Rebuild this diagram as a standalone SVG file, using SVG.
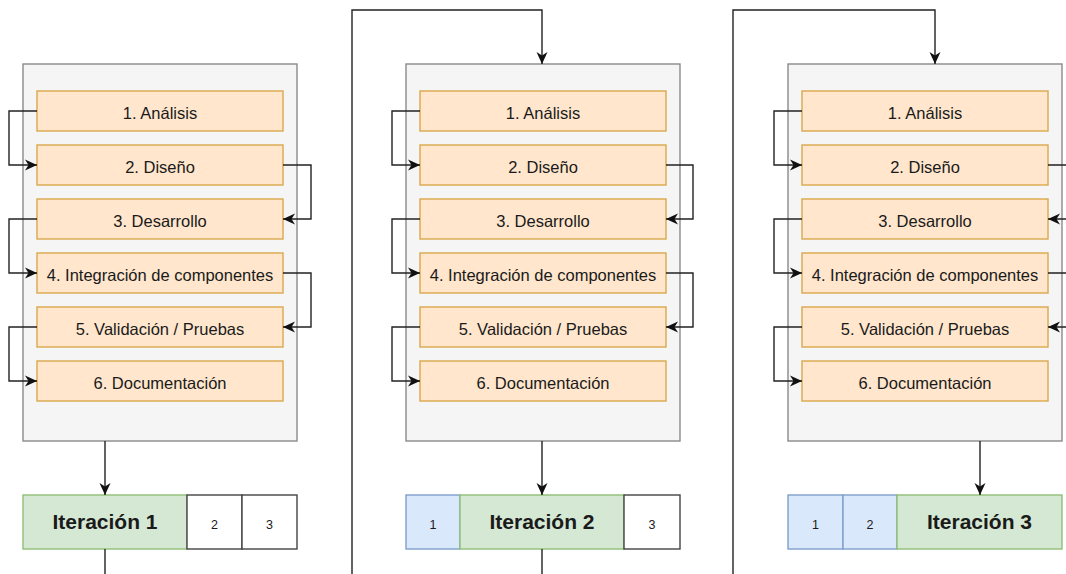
<svg xmlns="http://www.w3.org/2000/svg" width="1066" height="574" viewBox="0 0 1066 574">
<defs>
<style>
.cont{fill:#f5f5f5;stroke:#8a8a8a;stroke-width:1.4}
.step{fill:#ffe6cc;stroke:#dba84a;stroke-width:1.4}
.green{fill:#d5e8d4;stroke:#8fbf77;stroke-width:1.4}
.blue{fill:#dae8fc;stroke:#7f9fcc;stroke-width:1.4}
.white{fill:#ffffff;stroke:#444;stroke-width:1.4}
.lbl{font-family:"Liberation Sans",Arial,sans-serif;font-size:16.5px;fill:#1a1a1a;text-anchor:middle}
.it{font-family:"Liberation Sans",Arial,sans-serif;font-size:21px;font-weight:bold;fill:#1a1a1a;text-anchor:middle}
.num{font-family:"Liberation Sans",Arial,sans-serif;font-size:12.5px;fill:#1a1a1a;text-anchor:middle}
.conn{fill:none;stroke:#222;stroke-width:1.4}
.arr{marker-end:url(#ah)}
</style>
<marker id="ah" markerUnits="userSpaceOnUse" markerWidth="13" markerHeight="13" refX="12" refY="5.5" orient="auto" viewBox="0 0 13 11">
<path d="M0,0 L12,5.5 L0,11 L3.5,5.5 Z" fill="#111"/>
</marker>
</defs>

<!-- Panel 1 -->
<g id="iter1-container"><rect class="cont" x="23" y="64" width="274" height="377"/></g>
<g id="p1-s1"><rect class="step" x="37" y="91" width="246" height="40"/><text class="lbl" x="160" y="118.5">1. Análisis</text></g>
<g id="p1-s2"><rect class="step" x="37" y="145" width="246" height="40"/><text class="lbl" x="160" y="172.5">2. Diseño</text></g>
<g id="p1-s3"><rect class="step" x="37" y="199" width="246" height="40"/><text class="lbl" x="160" y="226.5">3. Desarrollo</text></g>
<g id="p1-s4"><rect class="step" x="37" y="253" width="246" height="40"/><text class="lbl" x="160" y="280.5">4. Integración de componentes</text></g>
<g id="p1-s5"><rect class="step" x="37" y="307" width="246" height="40"/><text class="lbl" x="160" y="334.5">5. Validación / Pruebas</text></g>
<g id="p1-s6"><rect class="step" x="37" y="361" width="246" height="40"/><text class="lbl" x="160" y="388.5">6. Documentación</text></g>
<g id="p1-bar">
<rect class="green" x="23" y="495" width="164" height="54"/><text class="it" x="105" y="529">Iteración 1</text>
<rect class="white" x="187" y="495" width="55" height="54"/><text class="num" x="214.5" y="528.5">2</text>
<rect class="white" x="242" y="495" width="55" height="54"/><text class="num" x="269.5" y="528.5">3</text>
</g>

<!-- Panel 2 -->
<g id="iter2-container"><rect class="cont" x="406" y="64" width="274" height="377"/></g>
<g id="p2-s1"><rect class="step" x="420" y="91" width="246" height="40"/><text class="lbl" x="543" y="118.5">1. Análisis</text></g>
<g id="p2-s2"><rect class="step" x="420" y="145" width="246" height="40"/><text class="lbl" x="543" y="172.5">2. Diseño</text></g>
<g id="p2-s3"><rect class="step" x="420" y="199" width="246" height="40"/><text class="lbl" x="543" y="226.5">3. Desarrollo</text></g>
<g id="p2-s4"><rect class="step" x="420" y="253" width="246" height="40"/><text class="lbl" x="543" y="280.5">4. Integración de componentes</text></g>
<g id="p2-s5"><rect class="step" x="420" y="307" width="246" height="40"/><text class="lbl" x="543" y="334.5">5. Validación / Pruebas</text></g>
<g id="p2-s6"><rect class="step" x="420" y="361" width="246" height="40"/><text class="lbl" x="543" y="388.5">6. Documentación</text></g>
<g id="p2-bar">
<rect class="blue" x="406" y="495" width="54" height="54"/><text class="num" x="433" y="528.5">1</text>
<rect class="green" x="460" y="495" width="164" height="54"/><text class="it" x="542" y="529">Iteración 2</text>
<rect class="white" x="624" y="495" width="56" height="54"/><text class="num" x="652" y="528.5">3</text>
</g>

<!-- Panel 3 -->
<g id="iter3-container"><rect class="cont" x="788" y="64" width="274" height="377"/></g>
<g id="p3-s1"><rect class="step" x="802" y="91" width="246" height="40"/><text class="lbl" x="925" y="118.5">1. Análisis</text></g>
<g id="p3-s2"><rect class="step" x="802" y="145" width="246" height="40"/><text class="lbl" x="925" y="172.5">2. Diseño</text></g>
<g id="p3-s3"><rect class="step" x="802" y="199" width="246" height="40"/><text class="lbl" x="925" y="226.5">3. Desarrollo</text></g>
<g id="p3-s4"><rect class="step" x="802" y="253" width="246" height="40"/><text class="lbl" x="925" y="280.5">4. Integración de componentes</text></g>
<g id="p3-s5"><rect class="step" x="802" y="307" width="246" height="40"/><text class="lbl" x="925" y="334.5">5. Validación / Pruebas</text></g>
<g id="p3-s6"><rect class="step" x="802" y="361" width="246" height="40"/><text class="lbl" x="925" y="388.5">6. Documentación</text></g>
<g id="p3-bar">
<rect class="blue" x="788" y="495" width="55" height="54"/><text class="num" x="815.5" y="528.5">1</text>
<rect class="blue" x="843" y="495" width="54" height="54"/><text class="num" x="870" y="528.5">2</text>
<rect class="green" x="897" y="495" width="165" height="54"/><text class="it" x="979.5" y="529">Iteración 3</text>
</g>

<g id="connectors">
<!-- panel 1 -->
<path class="conn arr" d="M37,111 H9 V165 H37"/>
<path class="conn arr" d="M283,165 H311 V219 H283"/>
<path class="conn arr" d="M37,219 H9 V273 H37"/>
<path class="conn arr" d="M283,273 H311 V327 H283"/>
<path class="conn arr" d="M37,327 H9 V381 H37"/>
<path class="conn arr" d="M105,441 V495"/>
<path class="conn" d="M105,549 V574"/>
<!-- panel 2 -->
<path class="conn arr" d="M352,574 V10 H542 V64"/>
<path class="conn arr" d="M420,111 H392 V165 H420"/>
<path class="conn arr" d="M666,165 H693 V219 H666"/>
<path class="conn arr" d="M420,219 H392 V273 H420"/>
<path class="conn arr" d="M666,273 H693 V327 H666"/>
<path class="conn arr" d="M420,327 H392 V381 H420"/>
<path class="conn arr" d="M542,441 V495"/>
<path class="conn" d="M542,549 V574"/>
<!-- panel 3 -->
<path class="conn arr" d="M733,574 V10 H935 V64"/>
<path class="conn arr" d="M802,111 H774 V165 H802"/>
<path class="conn arr" d="M1048,165 H1076 V219 H1048"/>
<path class="conn arr" d="M802,219 H774 V273 H802"/>
<path class="conn arr" d="M1048,273 H1076 V327 H1048"/>
<path class="conn arr" d="M802,327 H774 V381 H802"/>
<path class="conn arr" d="M980,441 V495"/>
</g>
</svg>
